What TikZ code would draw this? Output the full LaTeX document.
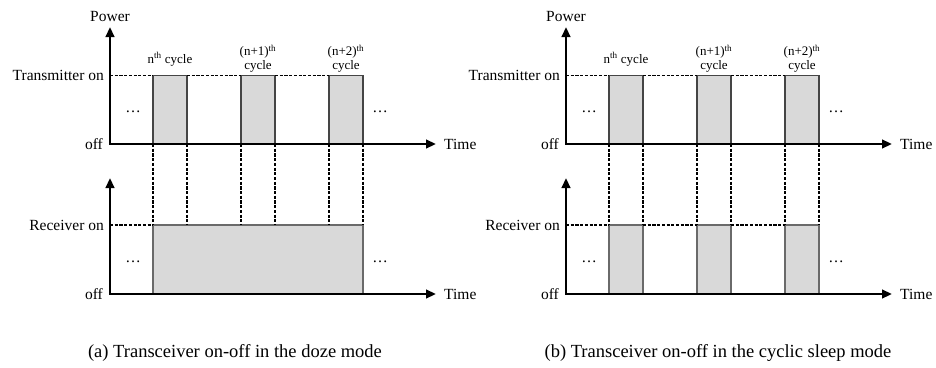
\documentclass[tikz,border=0pt]{standalone}
\usepackage{fontspec}
\setmainfont{Liberation Serif}
\usetikzlibrary{arrows.meta}
\definecolor{boxfill}{HTML}{D9D9D9}
\definecolor{boxedge}{HTML}{454545}
\definecolor{boxedgeb}{HTML}{6A6A6A}
\tikzset{
  axis/.style={line width=2.6pt, {Triangle[length=10pt,width=8.5pt]}-{Triangle[length=10pt,width=8.5pt]}},
  dsh/.style={line width=1.2pt, dash pattern=on 3.2pt off 1.5pt},
  box/.style={draw=boxedge, fill=boxfill, line width=1.1pt, inner sep=0pt, outer sep=0pt, minimum width=34pt, minimum height=68.5pt},
  lbl/.style={font=\fontsize{15.5}{18}\selectfont, inner sep=0pt},
  cyc/.style={font=\fontsize{13}{14}\selectfont, inner sep=0pt, align=center},
  capt/.style={font=\fontsize{18.5}{22}\selectfont, inner sep=0pt},
  dotlbl/.style={font=\fontsize{15.5}{18}\selectfont, inner sep=0pt}
}
\newcommand{\TxPanel}[1]{%
  \node[box, anchor=south west] (#1t1) at (153,144) {};
  \node[box, anchor=south west] (#1t2) at (241,144) {};
  \node[box, anchor=south west] (#1t3) at (329,144) {};
  \coordinate (#1o) at (110,144);
  \coordinate (#1ytop) at (110,27);
  \coordinate (#1xend) at (436,144);
  \coordinate (#1on) at (110,75.5);
  \draw[dsh] (#1on) -- (#1t1.north west);
  \draw[dsh] (#1t1.north east) -- (#1t2.north west);
  \draw[dsh] (#1t2.north east) -- (#1t3.north west);
  \draw[axis] (#1ytop) -- (#1o) -- (#1xend);
  \node[lbl] (#1power) at (110,16) {Power};
  \node[lbl, anchor=east] (#1txon) at (104,75.5) {Transmitter on};
  \node[lbl, anchor=east] (#1off) at (103,144) {off};
  \node[lbl, anchor=west] (#1time) at (444,144) {Time};
  \node[dotlbl] (#1d1) at (133,112) {…};
  \node[dotlbl] (#1d2) at (380,112) {…};
  \node[cyc, anchor=base] (#1c1) at (170,63) {n\textsuperscript{th} cycle};
  \node[cyc, anchor=south] (#1c2) at (258,73) {(n+1)\textsuperscript{th}\\cycle};
  \node[cyc, anchor=south] (#1c3) at (346,73) {(n+2)\textsuperscript{th}\\cycle};
}
\newcommand{\RxAxes}[1]{%
  \coordinate (#1ro) at (110,294);
  \coordinate (#1rytop) at (110,178);
  \coordinate (#1rxend) at (436,294);
  \coordinate (#1ron) at (110,225);
  \draw[axis] (#1rytop) -- (#1ro) -- (#1rxend);
  \node[lbl, anchor=east] (#1rxon) at (104,225) {Receiver on};
  \node[lbl, anchor=east] (#1roff) at (103,294) {off};
  \node[lbl, anchor=west] (#1rtime) at (444,294) {Time};
  \node[dotlbl] (#1rd1) at (133,262) {…};
  \node[dotlbl] (#1rd2) at (380,262) {…};
}
\begin{document}
\begin{tikzpicture}[x=1pt,y=-1pt]
\useasboundingbox (0,0) rectangle (936,367);
% ---------------- panel (a) ----------------
\begin{scope}
  \node[box, draw=boxedgeb, anchor=south west, minimum width=210pt, minimum height=69pt] (a-rx) at (153,294) {};
  \TxPanel{a-}
  \RxAxes{a-}
  \draw[dsh] (a-ron) -- (a-rx.north west);
  \draw[dsh] (a-t1.south west) -- (a-rx.north west);
  \draw[dsh] (a-t1.south east) -- (a-t1.south east |- a-rx.north);
  \draw[dsh] (a-t2.south west) -- (a-t2.south west |- a-rx.north);
  \draw[dsh] (a-t2.south east) -- (a-t2.south east |- a-rx.north);
  \draw[dsh] (a-t3.south west) -- (a-t3.south west |- a-rx.north);
  \draw[dsh] (a-t3.south east) -- (a-rx.north east);
  \node[capt] (capA) at (235,353) {(a) Transceiver on-off in the doze mode};
\end{scope}
% ---------------- panel (b) ----------------
\begin{scope}[xshift=456pt]
  \node[box, draw=boxedgeb, anchor=south west, minimum height=69pt] (b-r1) at (153,294) {};
  \node[box, draw=boxedgeb, anchor=south west, minimum height=69pt] (b-r2) at (241,294) {};
  \node[box, draw=boxedgeb, anchor=south west, minimum height=69pt] (b-r3) at (329,294) {};
  \TxPanel{b-}
  \RxAxes{b-}
  \draw[dsh] (b-ron) -- (b-r1.north west);
  \draw[dsh] (b-r1.north east) -- (b-r2.north west);
  \draw[dsh] (b-r2.north east) -- (b-r3.north west);
  \draw[dsh] (b-t1.south west) -- (b-r1.north west);
  \draw[dsh] (b-t1.south east) -- (b-r1.north east);
  \draw[dsh] (b-t2.south west) -- (b-r2.north west);
  \draw[dsh] (b-t2.south east) -- (b-r2.north east);
  \draw[dsh] (b-t3.south west) -- (b-r3.north west);
  \draw[dsh] (b-t3.south east) -- (b-r3.north east);
  \node[capt] (capB) at (262,353) {(b) Transceiver on-off in the cyclic sleep mode};
\end{scope}
\end{tikzpicture}
\end{document}
